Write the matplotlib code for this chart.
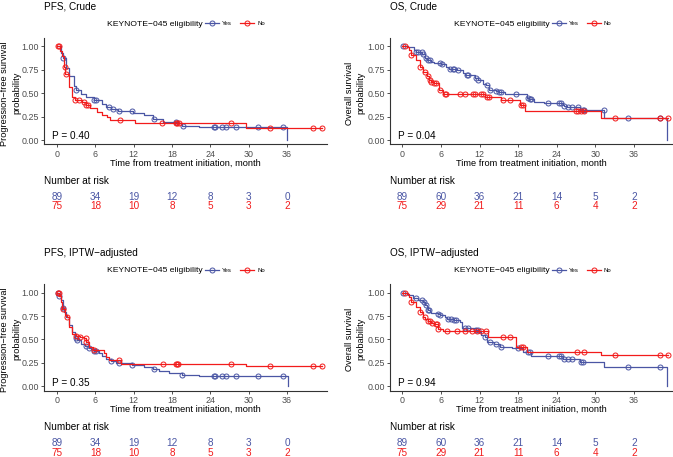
import numpy as np
import matplotlib.pyplot as plt
from matplotlib.lines import Line2D
from matplotlib.transforms import blended_transform_factory

plt.rcParams['font.family'] = ['Liberation Sans', 'DejaVu Sans']

W, H = 673, 457
BLUE = '#4A56A4'
RED = '#F21B1B'

risk_times = [0, 6, 12, 18, 24, 30, 36]
pfs_risk_yes = [89, 34, 19, 12, 8, 3, 0]
pfs_risk_no = [75, 18, 10, 8, 5, 3, 2]
os_risk_yes = [89, 60, 36, 21, 14, 5, 2]
os_risk_no = [75, 29, 21, 11, 6, 4, 2]

# PFS, crude
pfs_crude_yes_t = [0, 0.6, 1.0, 1.4, 1.9, 2.6, 3.0, 3.7, 4.5, 5.8, 7.0, 7.6, 8.4, 9.6, 11.9,
                   13.6, 15.1, 16.6, 18.9, 19.6, 22.3, 36.0]
pfs_crude_yes_s = [1.0, 0.93, 0.87, 0.77, 0.68, 0.58, 0.53, 0.49, 0.46, 0.43, 0.39, 0.35, 0.33,
                   0.31, 0.295, 0.27, 0.23, 0.20, 0.185, 0.155, 0.137, 0.0]
pfs_crude_yes_c = [1.0, 3.0, 5.8, 6.05, 8.2, 8.7, 9.7, 11.8, 15.2, 18.6, 19.7, 24.6, 24.8, 25.9,
                   26.4, 28.0, 31.4, 35.3]
pfs_crude_no_t = [0, 0.4, 0.8, 1.1, 1.3, 1.8, 2.3, 2.8, 3.9, 4.6, 5.2, 6.2, 7.0, 7.8, 8.3, 12.2, 29.6]
pfs_crude_no_s = [1.0, 0.95, 0.89, 0.78, 0.70, 0.57, 0.46, 0.43, 0.41, 0.38, 0.34, 0.30, 0.27,
                  0.25, 0.215, 0.185, 0.135]
pfs_crude_no_c = [0.15, 0.3, 1.2, 1.36, 2.8, 3.5, 4.3, 4.6, 4.9, 9.9, 16.5, 18.6, 18.8, 19.1,
                  27.2, 33.3, 40.1, 41.5]

# OS, crude
os_crude_yes_t = [0, 0.9, 1.8, 2.2, 3.1, 3.5, 3.9, 4.5, 5.0, 6.0, 6.8, 7.3, 8.5, 9.4, 9.8, 11.3,
                  11.7, 12.5, 13.0, 13.5, 14.5, 15.0, 16.0, 19.3, 19.7, 20.5, 22.0, 24.9, 25.2,
                  25.6, 27.6, 31.4, 41.1]
os_crude_yes_s = [1.0, 0.985, 0.96, 0.935, 0.915, 0.87, 0.85, 0.83, 0.82, 0.81, 0.775, 0.76, 0.75,
                  0.71, 0.69, 0.66, 0.64, 0.60, 0.59, 0.535, 0.52, 0.51, 0.49, 0.45, 0.435, 0.41,
                  0.40, 0.38, 0.365, 0.355, 0.317, 0.237, 0.0]
os_crude_yes_c = [0.1, 2.2, 2.4, 3.0, 3.2, 3.7, 4.0, 4.25, 5.8, 6.1, 7.4, 7.9, 8.1, 8.7, 10.0, 10.2,
                  11.5, 11.8, 13.1, 13.6, 14.6, 15.1, 15.4, 17.7, 19.5, 19.8, 20.0, 22.6, 24.4,
                  24.7, 25.2, 25.7, 26.3, 27.3, 28.1, 28.3, 31.3, 35.1, 40.1]
os_crude_no_t = [0, 0.8, 1.0, 1.3, 2.2, 2.7, 3.2, 3.8, 4.1, 4.4, 5.0, 5.7, 6.4, 12.8, 15.3, 18.3,
                 19.1, 30.8]
os_crude_no_s = [1.0, 0.985, 0.96, 0.905, 0.85, 0.78, 0.72, 0.68, 0.64, 0.62, 0.605, 0.53, 0.495,
                 0.46, 0.43, 0.37, 0.315, 0.236]
os_crude_no_c = [0.4, 1.4, 2.8, 3.5, 4.0, 4.25, 4.5, 5.0, 5.3, 5.8, 6.6, 6.8, 8.9, 9.7, 11.0, 11.3,
                 12.2, 12.5, 13.1, 13.4, 15.6, 16.7, 18.5, 18.7, 27.0, 27.3, 27.8, 28.3, 33.0,
                 40.1, 41.3]

# PFS, IPTW-adjusted
pfs_iptw_yes_t = [0, 0.3, 0.6, 1.0, 1.1, 1.4, 1.9, 2.4, 2.8, 3.2, 3.7, 4.4, 5.0, 5.3, 5.8, 6.6,
                  7.0, 7.6, 8.4, 9.3, 11.8, 13.6, 15.0, 16.0, 17.5, 19.5, 22.2, 36.1]
pfs_iptw_yes_s = [1.0, 0.97, 0.92, 0.84, 0.79, 0.74, 0.65, 0.58, 0.52, 0.49, 0.45, 0.43, 0.41,
                  0.40, 0.375, 0.35, 0.32, 0.29, 0.27, 0.25, 0.23, 0.20, 0.18, 0.16, 0.14, 0.115,
                  0.104, 0.0]
pfs_iptw_yes_c = [0.15, 0.3, 1.0, 2.9, 3.2, 4.5, 5.0, 5.8, 6.1, 8.4, 9.7, 11.8, 15.2, 19.6, 24.6,
                  24.8, 25.9, 26.4, 28.0, 31.4, 35.3]
pfs_iptw_no_t = [0, 0.3, 0.6, 0.83, 1.2, 1.5, 1.9, 2.4, 2.9, 3.6, 4.2, 4.6, 5.0, 5.6, 7.4, 7.6,
                 8.1, 10.0, 29.6]
pfs_iptw_no_s = [1.0, 0.97, 0.9, 0.83, 0.76, 0.74, 0.63, 0.56, 0.54, 0.53, 0.51, 0.47, 0.42, 0.39,
                 0.35, 0.31, 0.28, 0.236, 0.215]
pfs_iptw_no_c = [0.1, 0.25, 1.0, 1.5, 2.9, 3.6, 4.5, 4.6, 5.8, 9.7, 16.6, 18.6, 18.8, 18.9, 27.2,
                 33.3, 40.1, 41.5]

# OS, IPTW-adjusted
os_iptw_yes_t = [0, 0.9, 1.7, 2.5, 3.2, 3.5, 3.8, 4.0, 4.3, 4.5, 5.5, 5.8, 6.6, 7.0, 8.0, 8.9, 9.2,
                 11.4, 11.9, 12.3, 12.8, 13.2, 14.3, 15.2, 17.0, 18.8, 19.4, 20.0, 25.0, 27.6,
                 31.4, 41.1]
os_iptw_yes_s = [1.0, 0.98, 0.94, 0.925, 0.90, 0.865, 0.85, 0.82, 0.79, 0.78, 0.775, 0.76, 0.74,
                 0.72, 0.705, 0.69, 0.625, 0.60, 0.58, 0.545, 0.53, 0.47, 0.45, 0.42, 0.41, 0.37,
                 0.36, 0.32, 0.295, 0.255, 0.20, 0.0]
os_iptw_yes_c = [0.1, 2.2, 3.0, 3.3, 3.7, 4.0, 4.2, 5.6, 5.8, 7.1, 7.6, 8.1, 8.4, 9.7, 10.2, 11.5,
                 11.8, 12.8, 13.6, 14.6, 15.4, 17.9, 19.5, 19.8, 22.6, 24.4, 24.7, 25.2, 25.7,
                 26.3, 27.8, 28.1, 35.1, 40.1]
os_iptw_no_t = [0, 0.8, 1.0, 1.3, 2.2, 2.7, 3.2, 3.6, 4.0, 4.4, 5.0, 5.5, 6.4, 13.3, 17.7, 19.4, 30.9]
os_iptw_no_s = [1.0, 0.985, 0.95, 0.90, 0.85, 0.79, 0.74, 0.72, 0.70, 0.68, 0.66, 0.615, 0.59,
                0.527, 0.42, 0.367, 0.33]
os_iptw_no_c = [0.4, 1.4, 2.8, 3.5, 4.0, 4.3, 4.6, 5.2, 5.4, 5.6, 6.9, 8.5, 9.7, 10.8, 11.6, 12.3,
                13.0, 15.6, 16.8, 18.5, 18.8, 27.1, 28.3, 33.1, 40.1, 41.3]


def fx(x):
    return x / W


def fy(y):
    return 1 - y / H


def draw_curve(ax, t, s, cens, color):
    t_end = max(t[-1], max(cens))
    tt = list(t) + [t_end]
    ss = list(s) + [s[-1]]
    ax.step(tt, ss, where='post', color=color, lw=0.9, clip_on=False)
    idx = np.searchsorted(t, cens, side='right') - 1
    cy = np.array(s)[idx]
    ax.plot(cens, cy, 'o', ms=3.6, mfc='none', mec=color, mew=0.7, clip_on=False)


def legend(fig, x, y):
    fig.text(fx(x), fy(y + 2.7), 'KEYNOTE\u2212045 eligibility', fontsize=6.1,
             ha='left', va='baseline')
    for k, (lab, col) in enumerate([('Yes', BLUE), ('No', RED)]):
        x1 = x + 98 + k * 35
        fig.add_artist(Line2D([fx(x1), fx(x1 + 14)], [fy(y), fy(y)], color=col, lw=0.9,
                              transform=fig.transFigure))
        fig.add_artist(Line2D([fx(x1 + 7)], [fy(y)], marker='o', ms=3.6, mfc='none', mec=col,
                              mew=0.7, transform=fig.transFigure))
        fig.text(fx(x1 + 17), fy(y + 2.1), lab, fontsize=4.3, ha='left', va='baseline')


panels = [
    dict(title='PFS, Crude', ylab=['Progression\u2212free survival', 'probability'], p='P = 0.40',
         yes=(pfs_crude_yes_t, pfs_crude_yes_s, pfs_crude_yes_c),
         no=(pfs_crude_no_t, pfs_crude_no_s, pfs_crude_no_c),
         risk=(pfs_risk_yes, pfs_risk_no), col=0, row=0),
    dict(title='OS, Crude', ylab=['Overall survival', 'probability'], p='P = 0.04',
         yes=(os_crude_yes_t, os_crude_yes_s, os_crude_yes_c),
         no=(os_crude_no_t, os_crude_no_s, os_crude_no_c),
         risk=(os_risk_yes, os_risk_no), col=1, row=0),
    dict(title='PFS, IPTW\u2212adjusted', ylab=['Progression\u2212free survival', 'probability'],
         p='P = 0.35',
         yes=(pfs_iptw_yes_t, pfs_iptw_yes_s, pfs_iptw_yes_c),
         no=(pfs_iptw_no_t, pfs_iptw_no_s, pfs_iptw_no_c),
         risk=(pfs_risk_yes, pfs_risk_no), col=0, row=1),
    dict(title='OS, IPTW\u2212adjusted', ylab=['Overall survival', 'probability'], p='P = 0.94',
         yes=(os_iptw_yes_t, os_iptw_yes_s, os_iptw_yes_c),
         no=(os_iptw_no_t, os_iptw_no_s, os_iptw_no_c),
         risk=(os_risk_yes, os_risk_no), col=1, row=1),
]

# pixel layout per column / row
cols = [dict(left=44, right=327, x0=57.0, ppm=6.389, ylab=(4.5, 16.5)),
        dict(left=390, right=673, x0=402.3, ppm=6.436, ylab=(349.0, 361.0))]
rows = [dict(y1=46.0, y0=140.4, bottom=144.4, top=38, dy=0.0),
        dict(y1=292.7, y0=386.1, bottom=390.6, top=284, dy=246.5)]

fig = plt.figure(figsize=(W / 100, H / 100), dpi=100)

for pn in panels:
    c = cols[pn['col']]
    r = rows[pn['row']]
    dx = c['left'] - 44
    dy = r['dy']
    ax = fig.add_axes([fx(c['left']), fy(r['bottom']), (c['right'] - c['left']) / W,
                       (r['bottom'] - r['top']) / H])
    ax.set_xlim((c['left'] - c['x0']) / c['ppm'], (c['right'] - c['x0']) / c['ppm'])
    span = r['y0'] - r['y1']
    ax.set_ylim((r['y0'] - r['bottom']) / span, (r['y0'] - r['top']) / span)
    ax.patch.set_alpha(0)

    draw_curve(ax, *pn['yes'], BLUE)
    draw_curve(ax, *pn['no'], RED)

    for side in ['top', 'right']:
        ax.spines[side].set_visible(False)
    for side in ['left', 'bottom']:
        ax.spines[side].set_color('#333333')
        ax.spines[side].set_linewidth(0.8)
    ax.set_xticks(risk_times)
    ax.set_yticks([0, 0.25, 0.5, 0.75, 1.0])
    ax.set_yticklabels(['0.00', '0.25', '0.50', '0.75', '1.00'])
    ax.tick_params(length=2.3, width=0.6, color='#333333', pad=1.5, labelsize=6.4,
                   labelcolor='#4D4D4D')

    fig.text(fx(c['left']), fy(9.8 + dy), pn['title'], fontsize=7.2, ha='left', va='baseline')
    legend(fig, 107 + dx * 1.002, 23.3 + dy)
    fig.text(fx(c['left'] + 7.5), fy(139.1 + dy), pn['p'], fontsize=7.2, ha='left', va='baseline')
    fig.text(fx((c['left'] + c['right']) / 2), fy(163 + dy),
             'Time from treatment initiation, month', fontsize=6.7, ha='center', va='center')
    mid = (r['top'] + 4 + r['bottom']) / 2
    for lx, txt in zip(c['ylab'], pn['ylab']):
        fig.text(fx(lx), fy(mid), txt, fontsize=6.6, rotation=90, ha='center', va='center')

    fig.text(fx(c['left']), fy(184 + dy), 'Number at risk', fontsize=7.2, ha='left', va='baseline')
    tr = blended_transform_factory(ax.transData, fig.transFigure)
    for n_yes, n_no, t in zip(pn['risk'][0], pn['risk'][1], risk_times):
        ax.text(t, fy(200 + dy), str(n_yes), transform=tr, color=BLUE, fontsize=7.2,
                ha='center', va='baseline', clip_on=False)
        ax.text(t, fy(209 + dy), str(n_no), transform=tr, color=RED, fontsize=7.2,
                ha='center', va='baseline', clip_on=False)

fig.savefig('out.png', dpi=100)
